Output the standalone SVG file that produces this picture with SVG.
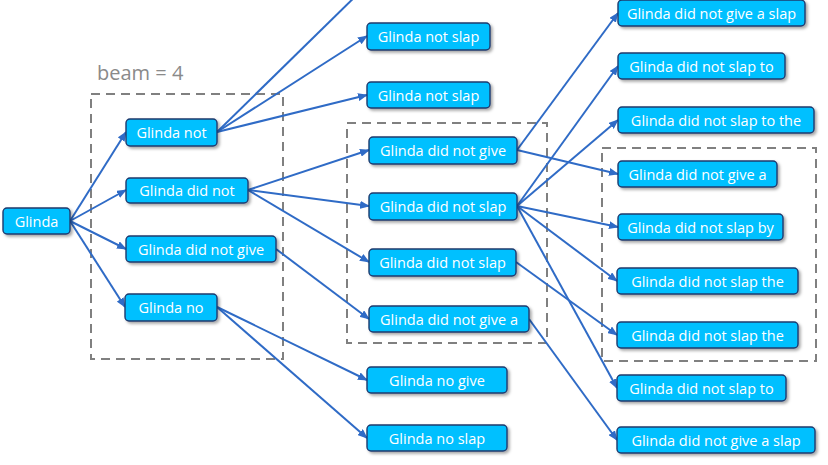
<svg xmlns="http://www.w3.org/2000/svg" width="828" height="465" viewBox="0 0 828 465">
<defs>
<filter id="sh" x="-10%" y="-30%" width="130%" height="180%">
<feDropShadow dx="2" dy="2" stdDeviation="1.5" flood-color="#000" flood-opacity="0.35"/>
</filter>
<marker id="ah" markerWidth="10" markerHeight="8" refX="9" refY="4" orient="auto" markerUnits="userSpaceOnUse">
<path d="M0,0 L10,4 L0,8 z" fill="#2F6BC6"/>
</marker>
<style>
.n rect{fill:#00C0FF;stroke:#1F3A6E;stroke-width:1.4;filter:url(#sh)}
.n text{fill:#fff;font-family:"Open Sans","Liberation Sans",sans-serif;font-size:14.5px;text-anchor:middle;dominant-baseline:central}
.c line{stroke:#2F6BC6;stroke-width:2;marker-end:url(#ah)}
.b{fill:none;stroke:#808080;stroke-width:2;stroke-dasharray:9 6}
</style>
</defs>
<rect width="828" height="465" fill="#fff"/>
<text x="97" y="80" font-family="Open Sans, Liberation Sans, sans-serif" font-size="20" fill="#8A8A8A">beam = 4</text>
<rect class="b" x="91" y="94" width="192" height="265"/>
<rect class="b" x="347" y="123" width="200" height="220"/>
<rect class="b" x="602" y="148" width="214" height="213"/>
<g class="c">
<line x1="70" y1="221" x2="126" y2="132"/>
<line x1="70" y1="221" x2="126" y2="190"/>
<line x1="70" y1="221" x2="126" y2="249"/>
<line x1="70" y1="221" x2="125" y2="307"/>
<line x1="217" y1="132" x2="367" y2="-15"/>
<line x1="217" y1="132" x2="367" y2="36"/>
<line x1="217" y1="132" x2="367" y2="95"/>
<line x1="248" y1="190" x2="369" y2="150"/>
<line x1="248" y1="190" x2="369" y2="206"/>
<line x1="248" y1="190" x2="369" y2="262"/>
<line x1="276" y1="249" x2="369" y2="319"/>
<line x1="217" y1="307" x2="367" y2="380"/>
<line x1="217" y1="307" x2="367" y2="438"/>
<line x1="517" y1="150" x2="618" y2="13"/>
<line x1="517" y1="150" x2="618" y2="174"/>
<line x1="517" y1="206" x2="618" y2="66"/>
<line x1="517" y1="206" x2="618" y2="120"/>
<line x1="517" y1="206" x2="618" y2="227"/>
<line x1="517" y1="206" x2="617" y2="281"/>
<line x1="517" y1="206" x2="617" y2="388"/>
<line x1="516" y1="262" x2="617" y2="335"/>
<line x1="529" y1="319" x2="617" y2="440"/>
</g>
<g id="n0" class="n"><rect x="3" y="208" width="67" height="26" rx="4"/><text x="36.5" y="221">Glinda</text></g>
<g id="n1" class="n"><rect x="126" y="119" width="91" height="27" rx="4"/><text x="171.5" y="132.5">Glinda not</text></g>
<g id="n2" class="n"><rect x="126" y="178" width="122" height="25" rx="4"/><text x="187" y="190.5">Glinda did not</text></g>
<g id="n3" class="n"><rect x="126" y="236" width="150" height="26" rx="4"/><text x="201" y="249">Glinda did not give</text></g>
<g id="n4" class="n"><rect x="125" y="294" width="92" height="27" rx="4"/><text x="171" y="307.5">Glinda no</text></g>
<g id="n5" class="n"><rect x="367" y="-28" width="123" height="26" rx="4"/></g>
<g id="n6" class="n"><rect x="367" y="23" width="123" height="27" rx="4"/><text x="428.5" y="36.5">Glinda not slap</text></g>
<g id="n7" class="n"><rect x="367" y="82" width="123" height="26" rx="4"/><text x="428.5" y="95">Glinda not slap</text></g>
<g id="n8" class="n"><rect x="369" y="137" width="148" height="27" rx="4"/><text x="443" y="150.5">Glinda did not give</text></g>
<g id="n9" class="n"><rect x="369" y="193" width="148" height="27" rx="4"/><text x="443" y="206.5">Glinda did not slap</text></g>
<g id="n10" class="n"><rect x="369" y="249" width="147" height="27" rx="4"/><text x="442.5" y="262.5">Glinda did not slap</text></g>
<g id="n11" class="n"><rect x="369" y="306" width="160" height="26" rx="4"/><text x="449" y="319">Glinda did not give a</text></g>
<g id="n12" class="n"><rect x="367" y="367" width="140" height="26" rx="4"/><text x="437" y="380">Glinda no give</text></g>
<g id="n13" class="n"><rect x="367" y="425" width="140" height="26" rx="4"/><text x="437" y="438">Glinda no slap</text></g>
<g id="n14" class="n"><rect x="618" y="0" width="187" height="26" rx="4"/><text x="711.5" y="13">Glinda did not give a slap</text></g>
<g id="n15" class="n"><rect x="618" y="53" width="167" height="26" rx="4"/><text x="701.5" y="66">Glinda did not slap to</text></g>
<g id="n16" class="n"><rect x="618" y="107" width="196" height="26" rx="4"/><text x="716" y="120">Glinda did not slap to the</text></g>
<g id="n17" class="n"><rect x="618" y="161" width="159" height="26" rx="4"/><text x="697.5" y="174">Glinda did not give a</text></g>
<g id="n18" class="n"><rect x="618" y="214" width="165" height="26" rx="4"/><text x="700.5" y="227">Glinda did not slap by</text></g>
<g id="n19" class="n"><rect x="617" y="268" width="181" height="26" rx="4"/><text x="707.5" y="281">Glinda did not slap the</text></g>
<g id="n20" class="n"><rect x="617" y="322" width="181" height="26" rx="4"/><text x="707.5" y="335">Glinda did not slap the</text></g>
<g id="n21" class="n"><rect x="617" y="375" width="169" height="26" rx="4"/><text x="701.5" y="388">Glinda did not slap to</text></g>
<g id="n22" class="n"><rect x="617" y="427" width="198" height="26" rx="4"/><text x="716" y="440">Glinda did not give a slap</text></g>
</svg>
